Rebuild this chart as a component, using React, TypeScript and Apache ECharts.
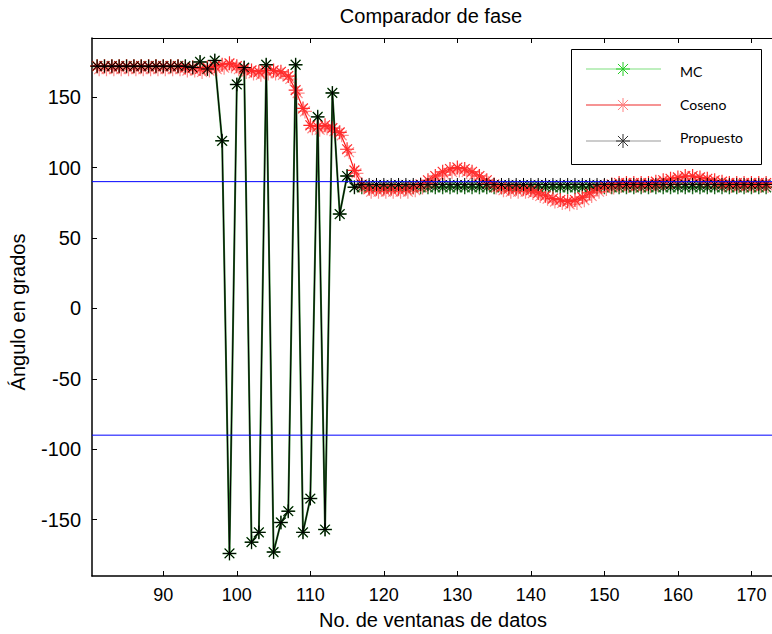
import React, { useEffect, useRef } from 'react';
import * as echarts from 'echarts';

// Data window index (No. de ventanas de datos)
const xValues = [
  80, 81, 82, 83, 84, 85, 86, 87, 88, 89,
  90, 91, 92, 93, 94, 95, 96, 97, 98, 99,
  100, 101, 102, 103, 104, 105, 106, 107, 108, 109,
  110, 111, 112, 113, 114, 115, 116, 117, 118, 119,
  120, 121, 122, 123, 124, 125, 126, 127, 128, 129,
  130, 131, 132, 133, 134, 135, 136, 137, 138, 139,
  140, 141, 142, 143, 144, 145, 146, 147, 148, 149,
  150, 151, 152, 153, 154, 155, 156, 157, 158, 159,
  160, 161, 162, 163, 164, 165, 166, 167, 168, 169,
  170, 171, 172, 173, 174,
];

const mcValues = [
  172, 172, 172, 172, 172, 172, 172, 172, 172, 172,
  172, 172, 172, 172, 171, 175, 170, 176, 119, -174,
  159, 171, -166, -159, 173, -173, -152, -144, 173, -159,
  -135, 136, -157, 153, 67, 94, 86, 86, 86, 86,
  86, 86, 86, 86, 86, 86, 86, 86, 86, 86,
  86, 86, 86, 86, 86, 86, 86, 86, 86, 86,
  86, 86, 86, 86, 86, 86, 86, 86, 86, 86,
  86, 86, 86, 86, 86, 86, 86, 86, 86, 86,
  86, 86, 86, 86, 86, 86, 86, 86, 86, 86,
  86, 86, 86, 86, 86,
];

const cosenoValues = [
  172, 172, 172, 172, 172, 172, 172, 172, 172, 172,
  172, 172, 172, 171, 171, 170, 171, 172, 173, 174,
  172, 170, 169, 168, 169, 169, 168, 165, 155, 142,
  130, 129, 130, 128, 125, 113, 98, 88, 85, 85,
  85, 85, 85, 85, 86, 88, 91, 94, 97, 99,
  100, 99, 97, 94, 91, 88, 86, 85, 85, 85,
  84, 82, 80, 78, 77, 76, 77, 79, 82, 85,
  87, 88, 89, 89, 89, 89, 89, 90, 91, 92,
  93, 94, 94, 93, 92, 91, 90, 89, 89, 89,
  89, 89, 89, 89, 89,
];

const propuestoValues = [
  172, 172, 172, 172, 172, 172, 172, 172, 172, 172,
  172, 172, 172, 172, 171, 175, 170, 176, 119, -174,
  159, 171, -166, -159, 173, -173, -152, -144, 173, -159,
  -135, 136, -157, 153, 67, 94, 86, 88, 88, 88,
  88, 88, 88, 88, 88, 88, 88, 88, 88, 88,
  88, 88, 88, 88, 88, 88, 88, 88, 88, 88,
  88, 88, 88, 88, 88, 88, 88, 88, 88, 88,
  88, 88, 88, 88, 88, 88, 88, 88, 88, 88,
  88, 88, 88, 88, 88, 88, 88, 88, 88, 88,
  88, 88, 88, 88, 88,
];

const xTicks = [90, 100, 110, 120, 130, 140, 150, 160, 170];
const yTicks = [-150, -100, -50, 0, 50, 100, 150];
const referenceLines = [90, -90];
const xRange = [80.3, 172.8];
const yRange = [-190, 192];

const seriesNames = ['MC', 'Coseno', 'Propuesto'];

const STAR = 'path://M0,-10L0,10M-10,0L10,0M-7,-7L7,7M-7,7L7,-7';

function starGraphic(cx: number, cy: number, r: number, color: string) {
  const d = r * 0.72;
  const st = { stroke: color, lineWidth: 1 };
  return [
    { type: 'line', z: 102, shape: { x1: cx, y1: cy - r, x2: cx, y2: cy + r }, style: st },
    { type: 'line', z: 102, shape: { x1: cx - r, y1: cy, x2: cx + r, y2: cy }, style: st },
    { type: 'line', z: 102, shape: { x1: cx - d, y1: cy - d, x2: cx + d, y2: cy + d }, style: st },
    { type: 'line', z: 102, shape: { x1: cx - d, y1: cy + d, x2: cx + d, y2: cy - d }, style: st },
  ];
}

export default function App() {
  const ref = useRef<HTMLDivElement>(null);

  useEffect(() => {
    if (!ref.current) return;
    const chart = echarts.init(ref.current, undefined, { renderer: 'svg' });

    const pairs = (vals: number[]) => xValues.map((x, i) => [x, vals[i]]);

    const legendItems = [
      { name: seriesNames[0], y: 69, line: '#7ee07e', star: '#22cc22', textY: 71 },
      { name: seriesNames[1], y: 105, line: '#ee2a2a', star: '#ff8080', textY: 104 },
      { name: seriesNames[2], y: 141, line: '#9a9a9a', star: '#333333', textY: 137 },
    ];

    const legendGraphics: any[] = [
      {
        type: 'rect',
        z: 100,
        shape: { x: 571.5, y: 49.5, width: 190, height: 115 },
        style: { fill: '#ffffff', stroke: '#000000', lineWidth: 1 },
      },
    ];
    legendItems.forEach((it) => {
      legendGraphics.push({
        type: 'line',
        z: 101,
        shape: { x1: 586, y1: it.y, x2: 661, y2: it.y },
        style: { stroke: it.line, lineWidth: 1.2 },
      });
      legendGraphics.push(...starGraphic(623, it.y, 7, it.star));
      legendGraphics.push({
        type: 'text',
        z: 102,
        x: 680,
        y: it.textY,
        style: {
          text: it.name,
          fill: '#000000',
          font: '14px Lato',
          textAlign: 'left',
          textVerticalAlign: 'middle',
        },
      });
    });

    const refSeries = referenceLines.map((v, i) => ({
      name: 'ref' + i,
      type: 'line',
      data: [
        [xRange[0], v],
        [xRange[1], v],
      ],
      symbol: 'none',
      silent: true,
      lineStyle: { color: '#0000ff', width: 1, type: 'solid' },
      itemStyle: { color: '#0000ff' },
      z: 5,
    }));

    chart.setOption({
      animation: false,
      backgroundColor: '#ffffff',
      grid: { left: 92, right: 0, top: 38, bottom: 58, containLabel: false },
      xAxis: [
        {
          type: 'value',
          min: xRange[0],
          max: xRange[1],
          position: 'bottom',
          axisLine: { show: true, onZero: false, lineStyle: { color: '#000000', width: 1.5 } },
          axisTick: { show: true, inside: true, length: 5, customValues: xTicks, lineStyle: { color: '#000000' } },
          axisLabel: {
            show: true,
            customValues: xTicks,
            fontSize: 18,
            color: '#000000',
            margin: 10,
            fontFamily: 'Liberation Sans Narrow, Liberation Sans',
          },
          splitLine: { show: false },
        },
        {
          type: 'value',
          min: xRange[0],
          max: xRange[1],
          position: 'top',
          axisLine: { show: true, onZero: false, lineStyle: { color: '#000000', width: 1 } },
          axisTick: { show: true, inside: true, length: 5, customValues: xTicks, lineStyle: { color: '#000000' } },
          axisLabel: { show: false },
          splitLine: { show: false },
        },
      ],
      yAxis: [
        {
          type: 'value',
          min: yRange[0],
          max: yRange[1],
          position: 'left',
          axisLine: { show: true, onZero: false, lineStyle: { color: '#000000', width: 1.5 } },
          axisTick: { show: true, inside: true, length: 5, customValues: yTicks, lineStyle: { color: '#000000' } },
          axisLabel: {
            show: true,
            customValues: yTicks,
            fontSize: 20,
            color: '#000000',
            margin: 11,
            fontFamily: 'Liberation Sans',
          },
          splitLine: { show: false },
        },
      ],
      graphic: [
        {
          type: 'text',
          x: 431,
          y: 16,
          style: {
            text: 'Comparador de fase',
            fill: '#000000',
            font: '20px Liberation Sans',
            textAlign: 'center',
            textVerticalAlign: 'middle',
          },
        },
        {
          type: 'text',
          x: 433,
          y: 620,
          style: {
            text: 'No. de ventanas de datos',
            fill: '#000000',
            font: '20px Liberation Sans',
            textAlign: 'center',
            textVerticalAlign: 'middle',
          },
        },
        {
          type: 'text',
          x: 18,
          y: 312,
          rotation: Math.PI / 2,
          style: {
            text: 'Ángulo en grados',
            fill: '#000000',
            font: '20px Liberation Sans',
            textAlign: 'center',
            textVerticalAlign: 'middle',
          },
        },
        ...legendGraphics,
      ],
      series: [
        {
          name: seriesNames[0],
          type: 'line',
          data: pairs(mcValues),
          symbol: STAR,
          symbolSize: 14,
          showAllSymbol: true,
          clip: true,
          lineStyle: { color: '#2f7d2f', width: 2 },
          itemStyle: { color: 'transparent', borderColor: '#1f6b1f', borderWidth: 1.4 },
          z: 2,
        },
        {
          name: seriesNames[1],
          type: 'line',
          data: pairs(cosenoValues),
          symbol: STAR,
          symbolSize: 14,
          showAllSymbol: true,
          clip: true,
          lineStyle: { color: '#ff1a1a', width: 1.2 },
          itemStyle: {
            color: 'transparent',
            borderColor: '#ff2a2a',
            borderWidth: 1.2,
            shadowColor: 'rgba(255,60,60,0.6)',
            shadowOffsetX: 2,
            shadowOffsetY: 3,
            shadowBlur: 1,
          },
          z: 3,
        },
        {
          name: seriesNames[2],
          type: 'line',
          data: pairs(propuestoValues),
          symbol: STAR,
          symbolSize: 13,
          showAllSymbol: true,
          clip: true,
          lineStyle: { color: '#000000', width: 1 },
          itemStyle: { color: 'transparent', borderColor: '#000000', borderWidth: 1 },
          z: 4,
        },
        ...refSeries,
      ],
    });

    return () => {
      chart.dispose();
    };
  }, []);

  return (
    <div
      ref={ref}
      style={{ position: 'fixed', left: 0, top: 0, width: 772, height: 634, background: '#ffffff' }}
    />
  );
}
